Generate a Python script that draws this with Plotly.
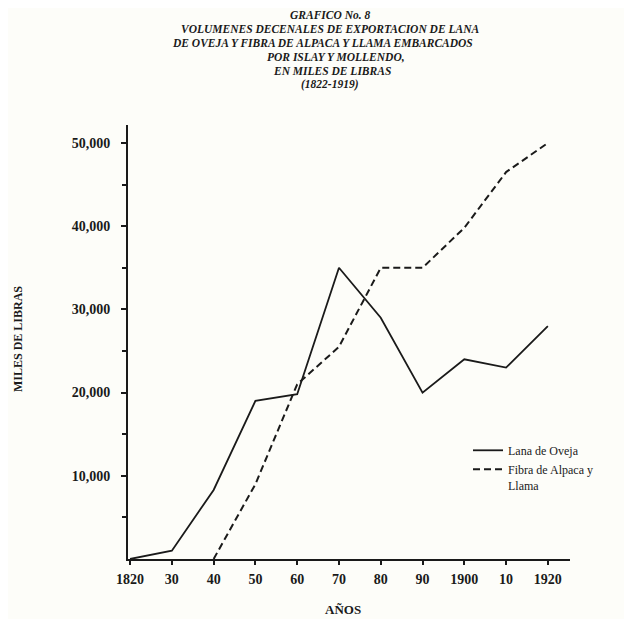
import plotly.graph_objects as go

years = [1820, 1830, 1840, 1850, 1860, 1870, 1880, 1890, 1900, 1910, 1920]
lana_oveja = [0, 1000, 8300, 19000, 19800, 35000, 29000, 20000, 24000, 23000, 28000]
fibra_years = [1840, 1850, 1860, 1870, 1880, 1890, 1900, 1910, 1920]
fibra_alpaca = [0, 9000, 21000, 25500, 35000, 35000, 39800, 46500, 50000]

x_tickvals = [1820, 1830, 1840, 1850, 1860, 1870, 1880, 1890, 1900, 1910, 1920]
x_ticktext = ["1820", "30", "40", "50", "60", "70", "80", "90", "1900", "10", "1920"]
y_tickvals = [10000, 20000, 30000, 40000, 50000]
y_ticktext = ["10,000", "20,000", "30,000", "40,000", "50,000"]

title_lines = [
    "GRAFICO No. 8",
    "VOLUMENES DECENALES DE EXPORTACION DE LANA",
    "DE OVEJA Y FIBRA DE ALPACA Y LLAMA EMBARCADOS",
    "POR ISLAY Y MOLLENDO,",
    "EN MILES DE LIBRAS",
    "(1822-1919)",
]

SERIF = "Liberation Serif, Times New Roman, serif"
INK = "#1a1a1a"
BG = "#fdfdf9"

W, H = 632, 619
OFF = 8  # page body margin
L, R, T, B = 120, 70, 117, 68
PW, PH = W - L - R, H - T - B


def px(sx):
    return (sx - OFF - L) / PW


def py(sy):
    return (H - B - (sy - OFF)) / PH


fig = go.Figure()
fig.add_trace(go.Scatter(
    x=years, y=lana_oveja, mode="lines", name="Lana de Oveja",
    line=dict(color=INK, width=1.8),
))
fig.add_trace(go.Scatter(
    x=fibra_years, y=fibra_alpaca, mode="lines", name="Fibra de Alpaca y<br>Llama",
    line=dict(color=INK, width=2, dash="7px,4px"),
))

annotations = []
line_y = [15, 29, 43, 57, 71, 85]
line_x = [330, 330, 322, 336, 332, 330]
for txt, yy, xx in zip(title_lines, line_y, line_x):
    annotations.append(dict(
        text="<b><i>" + txt + "</i></b>", xref="paper", yref="paper",
        x=px(xx), y=py(yy),
        xanchor="center", yanchor="middle", showarrow=False,
        font=dict(family=SERIF, size=11.5, color=INK),
    ))
annotations.append(dict(
    text="<b>MILES DE LIBRAS</b>", xref="paper", yref="paper",
    x=px(18), y=py(339),
    xanchor="center", yanchor="middle", textangle=-90, showarrow=False,
    font=dict(family=SERIF, size=12, color=INK),
))
annotations.append(dict(
    text="<b>AÑOS</b>", xref="paper", yref="paper",
    x=px(343), y=py(609),
    xanchor="center", yanchor="middle", showarrow=False,
    font=dict(family=SERIF, size=13, color=INK),
))

fig.update_layout(
    width=W, height=H,
    margin=dict(l=L, r=R, t=T, b=B),
    paper_bgcolor=BG, plot_bgcolor=BG,
    showlegend=True,
    legend=dict(
        x=px(468), y=py(436), xanchor="left", yanchor="top",
        bgcolor="rgba(0,0,0,0)", valign="top",
        font=dict(family=SERIF, size=12, color=INK),
        tracegroupgap=0,
    ),
    annotations=annotations,
    xaxis=dict(
        range=[1819.5, 1925.3], showgrid=False, zeroline=False,
        showline=True, linecolor=INK, linewidth=2,
        tickvals=x_tickvals, ticktext=x_ticktext,
        ticks="outside", ticklen=4, tickwidth=1.5, tickcolor=INK,
        tickfont=dict(family=SERIF, size=14, color=INK, weight="bold"),
        ticklabelstandoff=2,
    ),
    yaxis=dict(
        range=[0, 52160], showgrid=False, zeroline=False,
        showline=True, linecolor=INK, linewidth=2,
        tickvals=y_tickvals, ticktext=y_ticktext,
        ticks="outside", ticklen=5, tickwidth=1.5, tickcolor=INK,
        minor=dict(tickvals=[5000, 15000, 25000, 35000, 45000], ticks="outside",
                   ticklen=4, tickwidth=1.5, tickcolor=INK),
        tickfont=dict(family=SERIF, size=14, color=INK, weight="bold"),
        ticklabelstandoff=8,
    ),
)

fig.write_html("out.html")
